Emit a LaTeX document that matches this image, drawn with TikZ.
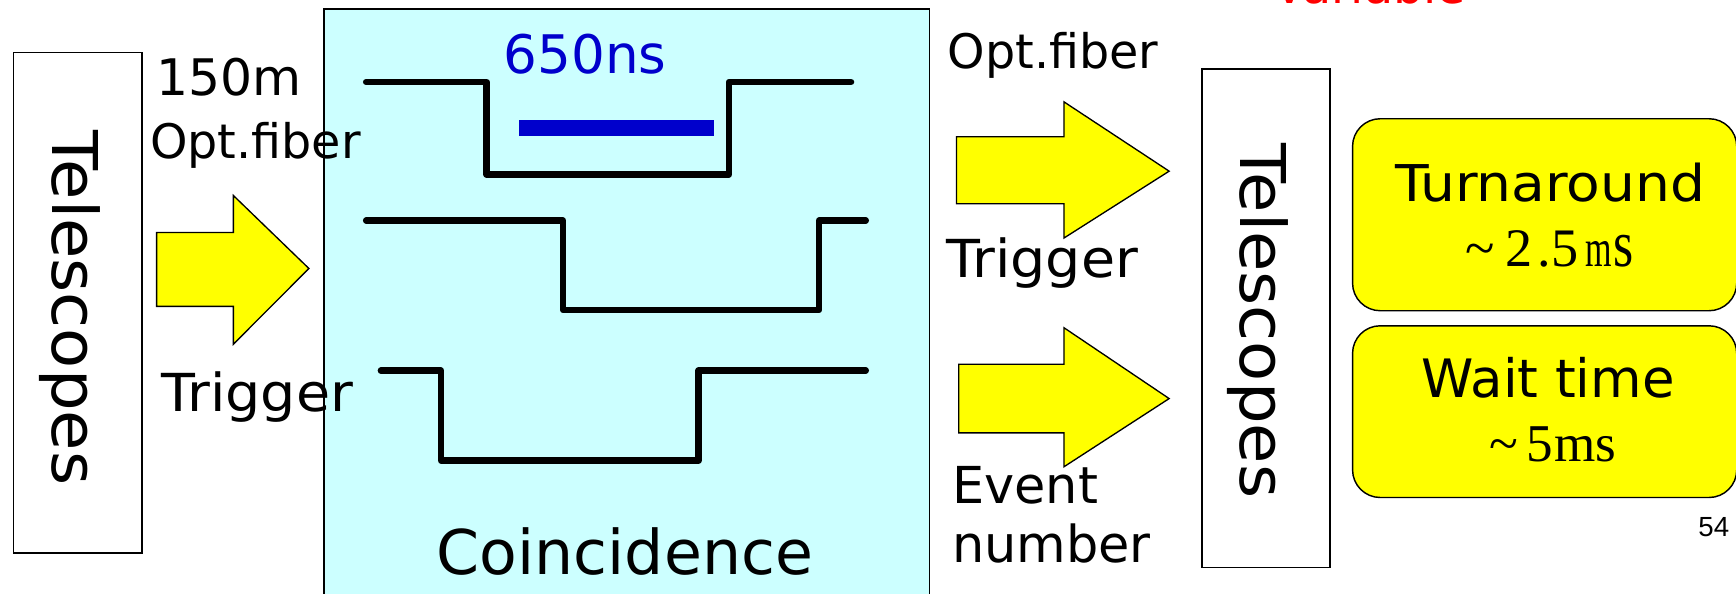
\documentclass[tikz,border=0pt]{standalone}
\usepackage{fontspec}
\usepackage{graphicx}
\setmainfont{DejaVu Sans}
\newfontfamily\seriff{Liberation Serif}
\newfontfamily\arialf{Liberation Sans}
\newfontfamily\wideA[FakeStretch=1.086]{DejaVu Sans}
\newfontfamily\wideB[FakeStretch=1.06]{DejaVu Sans}
\newfontfamily\wideC[FakeStretch=1.04]{DejaVu Sans}
\newcommand{\fsz}[1]{\fontsize{#1}{#1}\selectfont}
\definecolor{cyanfill}{HTML}{CCFFFF}
\definecolor{barblue}{HTML}{0000CC}
\definecolor{ylw}{HTML}{FFFF00}
\definecolor{redtxt}{HTML}{FF0000}
\begin{document}
\begin{tikzpicture}[x=1pt,y=-1pt,
  txt/.style={inner sep=0pt, outer sep=0pt, anchor=base west},
  frame/.style={draw=black, line width=1.3pt, inner sep=0pt, anchor=north west},
  yellowbox/.style={draw=black, fill=ylw, rounded corners=25pt, line width=1.3pt, inner sep=0pt, anchor=north west, minimum width=347pt},
  blockarrow/.style={draw=black, fill=ylw, line width=1.2pt, line join=miter},
  wave/.style={draw=black, line width=5.8pt, line cap=round, line join=round},
  ]
\useasboundingbox (0,0) rectangle (1568,536);
\clip (0,0) rectangle (1568,536);

% left telescopes
\node[frame, minimum width=116pt, minimum height=452pt] (telL) at (11.5,47) {};
\node[txt, rotate=-90, font=\wideC\fsz{57}] (telLt) at (47,118) {Telescopes};

% left arrow
\draw[blockarrow] (141.5,210) -- (210.8,210) -- (210.8,176.6) -- (279,242.5)
  -- (210.8,310.9) -- (210.8,276.7) -- (141.5,276.7) -- cycle;

% coincidence box
\node[frame, fill=cyanfill, minimum width=547pt, minimum height=560pt] (coin) at (292,7.5) {};

% left labels (drawn over the box edge)
\node[txt, font=\fsz{45.5}] (len) at (141.6,86) {150m};
\node[txt, font=\fsz{43}] (fibL) at (135.5,143) {Opt.fiber};
\node[txt, font=\wideB\fsz{47.3}] (trgL) at (146,371.7) {Trigger};

\draw[wave] (330.7,74.1) -| (439.5,157.5) -| (658.5,74.1) -- (768.7,74.1);
\draw[wave] (330.7,199.2) -| (508.6,280) -| (739.8,199.2) -- (782,199.2);
\draw[wave] (344,334.8) -| (398.4,416) -| (631,334.8) -- (782,334.8);
\fill[barblue] (468.8,108.7) rectangle (644.7,123);
\node[txt, font=\fsz{48}, text=barblue] (ns) at (455,66.6) {650ns};
\node[txt, font=\fsz{55.7}] (coint) at (394.6,519) {Coincidence};

% right labels and arrows
\node[txt, font=\fsz{43}] (fibR) at (856,61.6) {Opt.fiber};
\draw[blockarrow] (864,123.5) -- (961,123.5) -- (961,92) -- (1056,154.6)
  -- (961,215) -- (961,184) -- (864,184) -- cycle;
\node[txt, font=\wideB\fsz{47.3}] (trgR) at (855,251) {Trigger};
\draw[blockarrow] (866,329) -- (961,329) -- (961,296) -- (1056,360)
  -- (961,421.6) -- (961,391) -- (866,391) -- cycle;
\node[txt, font=\fsz{46}] (evt) at (860,455) {Event};
\node[txt, font=\fsz{46}] (num) at (860,508) {number};

% right telescopes
\node[frame, minimum width=115.6pt, minimum height=450.3pt] (telR) at (1085,61.5) {};
\node[txt, rotate=-90, font=\wideC\fsz{57}] (telRt) at (1120.6,129.8) {Telescopes};

% yellow boxes
\node[yellowbox, minimum height=173.4pt] (turn) at (1221,106.6) {};
\node[txt, font=\wideA\fsz{45.8}] (turnt) at (1260,182) {Turnaround};
\node[txt] (turnv) at (1324,241) {\seriff\fsz{49}\textasciitilde\hspace{9pt}2\hspace{4.5pt}.\hspace{1pt}5\hspace{6pt}\scalebox{0.64}[1]{\fsz{48}m}\hspace{1.5pt}\scalebox{0.78}[1]{\fsz{60}s}};
\node[yellowbox, minimum height=155.1pt] (wait) at (1221,293.6) {};
\node[txt, font=\fsz{47.8}] (waitt) at (1284,359) {Wait time};
\node[txt] (waitv) at (1345,417) {\seriff\fsz{48}\textasciitilde\hspace{8pt}5\hspace{1pt}ms};

% page number and clipped red title
\node[txt, font=\arialf\fsz{25}] (pg) at (1534,484.7) {54};
\node[txt, font=\fsz{43}, text=redtxt] (var) at (1150,3) {Variable};
\end{tikzpicture}
\end{document}
